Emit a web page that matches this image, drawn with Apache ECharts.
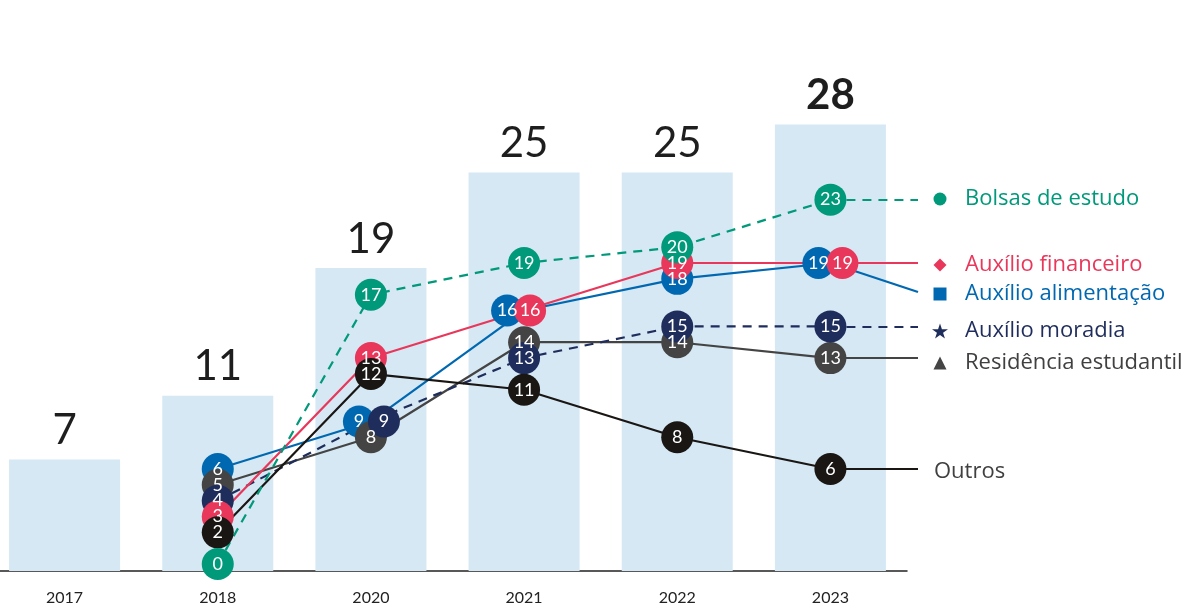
<!DOCTYPE html>
<html>
<head>
<meta charset="utf-8">
<script src="https://cdn.jsdelivr.net/npm/echarts@6/dist/echarts.min.js"></script>
<style>
  html, body { margin: 0; padding: 0; background: #fff; overflow: hidden; }
  /* a primeira barra começa quase na borda, por isso o gráfico fica 12px para a esquerda */
  #chart { width: 1202px; height: 606px; margin-left: -12px; }
</style>
</head>
<body>
<div id="chart"></div>
<script>
// dados
var years = ['2017', '2018', '2020', '2021', '2022', '2023']
var totals = [7, 11, 19, 25, 25, 28]
var bolsas = [null, 0, 17, 19, 20, 23]
var financeiro = [null, 3, 13, 16, 19, 19]
var alimentacao = [null, 6, 9, 16, 18, 19]
var moradia = [null, 4, 9, 13, 15, 15]
var residencia = [null, 5, 8, 14, 14, 13]
var outros = [null, 2, 12, 11, 8, 6]

var font = 'Lato, "Noto Sans", sans-serif'
var legendFont = '"Open Sans", "Noto Sans", sans-serif'
var starPath = 'path://M12,0 L14.9,8.6 L24,8.6 L16.6,13.9 L19.4,22.6 L12,17.3 L4.6,22.6 L7.4,13.9 L0,8.6 L9.1,8.6 Z'
var shift = 12 // deslocamento do div

// ordem de desenho: os últimos ficam por cima
var lines = [
  { name: 'Auxílio alimentação', data: alimentacao, color: '#0068b1', dashed: false, icon: 'rect', size: 13, legendY: 292, endY: 292, nudge: { 2: -12, 3: -17, 5: -12 } },
  { name: 'Residência estudantil', data: residencia, color: '#444444', dashed: false, icon: 'triangle', size: 13, legendY: 361, nudge: {} },
  { name: 'Auxílio moradia', data: moradia, color: '#1f2d5c', dashed: true, icon: starPath, size: 16, legendY: 329, nudge: { 2: 13 } },
  { name: 'Auxílio financeiro', data: financeiro, color: '#e8375a', dashed: false, icon: 'diamond', size: 13, legendY: 263, nudge: { 3: 6, 5: 12 } },
  { name: 'Outros', data: outros, color: '#1a1614', dashed: false, icon: 'none', size: 0, legendY: 470, nudge: {} },
  { name: 'Bolsas de estudo', data: bolsas, color: '#00997a', dashed: true, icon: 'circle', size: 13, legendY: 197, nudge: {} }
]

var chart = echarts.init(document.getElementById('chart'))

var series = [{
  type: 'bar',
  name: 'Total',
  data: totals.map(function(v, i) {
    return i === totals.length - 1 ? { value: v, label: { fontWeight: 'bold' } } : v
  }),
  barWidth: 111,
  itemStyle: { color: '#d5e8f4' },
  label: {
    show: true,
    position: 'top',
    distance: 8,
    fontSize: 42,
    fontFamily: font,
    color: '#1e1e1e'
  },
  silent: true,
  z: 0
}]

var legends = []
var last = years.length - 1

lines.forEach(function(l) {
  var lastVal = l.data[last]
  var style = { color: l.color, width: 2.2, type: l.dashed ? [9, 7] : 'solid' }
  var endPoint = { coord: [years[last], lastVal], x: 918 + shift }
  if (l.endY) endPoint = { x: 918 + shift, y: l.endY }
  series.push({
    type: 'line',
    name: l.name,
    yAxisIndex: 1,
    data: l.data,
    showSymbol: false,
    symbol: 'none',
    color: l.color,
    lineStyle: style,
    z: 2,
    markLine: {
      silent: true,
      symbol: 'none',
      z: 1,
      animation: false,
      label: { show: false },
      lineStyle: style,
      data: [[{ coord: [years[last], lastVal] }, endPoint]]
    }
  })
  series.push({
    type: 'scatter',
    name: l.name,
    yAxisIndex: 1,
    data: l.data.map(function(v, i) {
      if (v === null) return null
      var dx = l.nudge[i] || 0
      return dx ? { value: v, symbolOffset: [dx, 0] } : v
    }),
    symbolSize: 32,
    itemStyle: { color: l.color, opacity: 1 },
    label: {
      show: true,
      position: 'inside',
      color: '#fff',
      fontSize: 18,
      fontFamily: font,
      formatter: function(p) { return p.value }
    },
    z: 3
  })
  var noIcon = l.icon === 'none'
  legends.push({
    data: [l.name],
    left: noIcon ? 929 + shift : 940 - l.size / 2 + shift,
    top: l.legendY - 9,
    padding: 0,
    icon: l.icon,
    itemWidth: l.size,
    itemHeight: l.size,
    selectedMode: false,
    textStyle: {
      color: noIcon || l.icon === 'triangle' ? '#404040' : l.color,
      fontSize: 22,
      fontFamily: legendFont,
      padding: [0, 0, 0, noIcon ? 0 : 20 - l.size / 2]
    }
  })
})

var option = {
  animation: false,
  backgroundColor: '#fff',
  legend: legends,
  grid: { left: 0, right: 283, top: 13, bottom: 33, containLabel: false },
  xAxis: {
    type: 'category',
    data: years,
    axisTick: { show: false },
    axisLine: { lineStyle: { color: '#222', width: 1.5 } },
    axisLabel: { color: '#222', fontSize: 16, fontFamily: font, margin: 19 },
    splitLine: { show: false }
  },
  yAxis: [
    { type: 'value', min: 0, max: 35, show: false },
    { type: 'value', min: -0.44, max: 34.78, show: false }
  ],
  series: series
}
chart.setOption(option)
window.addEventListener('resize', function() {
  chart.resize()
})
</script>
</body>
</html>
